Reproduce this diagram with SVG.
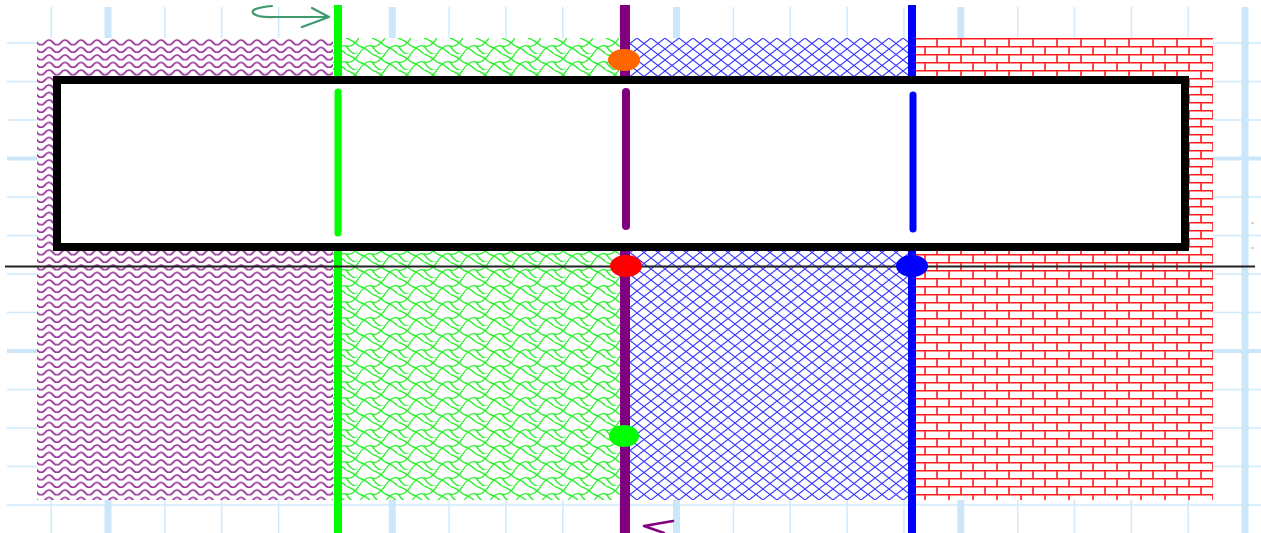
<svg xmlns="http://www.w3.org/2000/svg" width="1261" height="533" viewBox="0 0 1261 533">
<style>
.gt{stroke:#d0e9fb;stroke-width:1.5}
.gT{stroke:#cce7fa;stroke-width:7}
.gTh{stroke:#cce7fa;stroke-width:4}
.vl{fill:none;stroke-linecap:butt}
.seg{fill:none;stroke-linecap:round}
</style>
<defs>
<pattern id="waves" width="16" height="7.5" patternUnits="userSpaceOnUse" x="37" y="38">
<rect width="16" height="7.5" fill="#fff"/>
<path d="M-8 4.5 Q-4 -0.5 0 4.5 T8 4.5 T16 4.5 T24 4.5" fill="none" stroke="#993399" stroke-width="1.8"/>
</pattern>
<pattern id="scales" width="26" height="16" patternUnits="userSpaceOnUse" x="333" y="38">
<rect width="26" height="16" fill="#fff"/>
<path d="M0 16 Q6.5 6 13 8 Q19.5 10 26 0 M-13 8 Q-6.5 -2 0 0 M13 8 Q19.5 18 26 16" fill="none" stroke="#33ee33" stroke-width="1.4"/>
<path d="M0 8 Q6.5 10 13 16 M13 0 Q19.5 2 26 8" fill="none" stroke="#33ee33" stroke-width="1.4"/>
</pattern>
<pattern id="cross" width="14" height="11" patternUnits="userSpaceOnUse" x="623" y="38">
<rect width="14" height="11" fill="#fff"/>
<path d="M0 0 L14 11 M14 0 L0 11" stroke="#3838ff" stroke-width="1.1"/>
</pattern>
<pattern id="bricks" width="24" height="16" patternUnits="userSpaceOnUse" x="912" y="38">
<rect width="24" height="16" fill="#fff"/>
<path d="M0 0.75 H24 M0 8.75 H24 M1 0 V8.75 M13 8.75 V16" stroke="#ff1a1a" stroke-width="1.6"/>
</pattern>
</defs>
<rect width="1261" height="533" fill="#fff"/>
<g id="grid">
<g class="gt">
<path d="M51.2 7V533 M164.9 7V533 M221.7 7V533 M278.6 7V533 M335.4 7V533 M449.1 7V533 M506 7V533 M562.8 7V533 M619.7 7V533 M733.4 7V533 M790.2 7V533 M847.1 7V533 M904 7V533 M1017.7 7V533 M1074.5 7V533 M1131.4 7V533 M1188.2 7V533"/>
<path d="M7 43H1261 M7 81.5H1261 M7 120H1261 M7 197H1261 M7 235.5H1261 M7 274H1261 M7 312.5H1261 M7 389.5H1261 M7 428H1261 M7 466.5H1261 M7 505H1261"/>
</g>
<path class="gT" d="M108 7V533 M392.3 7V533 M676.5 7V533 M960.8 7V533 M1245 7V533"/>
<path class="gTh" d="M7 158.5H1261 M7 351H1261"/>
</g>
<g id="regions">
<rect x="37" y="38" width="296" height="462" fill="url(#waves)"/>
<rect x="333" y="38" width="290" height="462" fill="url(#scales)"/>
<rect x="623" y="38" width="289" height="462" fill="url(#cross)"/>
<rect x="912" y="38" width="301" height="462" fill="url(#bricks)"/>
</g>
<g id="verticals">
<path class="vl" d="M338 5V533" stroke="#00ff00" stroke-width="8"/>
<path class="vl" d="M625 5V533" stroke="#800080" stroke-width="10"/>
<path class="vl" d="M912 5V533" stroke="#0000ff" stroke-width="8"/>
</g>
<g id="box">
<rect x="57" y="80" width="1128" height="167" fill="#fff" stroke="#000" stroke-width="8"/>
<path class="seg" d="M338 92V233" stroke="#00ff00" stroke-width="7"/>
<path class="seg" d="M626 92V226" stroke="#800080" stroke-width="8"/>
<path class="seg" d="M913 95V229" stroke="#0000ff" stroke-width="7"/>
</g>
<g id="connectors">
<path d="M5 266.5H1255" stroke="#222" stroke-width="2.2"/>
<path d="M272 6 Q250 8 253 13 Q257 18 276 17 L329 17 M312 8 L329 17 L302 27" fill="none" stroke="#3c9a6c" stroke-width="2.2" stroke-linecap="round" stroke-linejoin="round"/>
<path d="M673 521 L644 526 L664 533" fill="none" stroke="#800080" stroke-width="2.5" stroke-linecap="round" stroke-linejoin="round"/>
<path d="M1251 223H1254 M1251 248H1254" stroke="#e0a060" stroke-width="1.2"/>
</g>
<g id="dot-orange"><ellipse cx="624" cy="60" rx="16" ry="11" fill="#ff6600"/></g>
<g id="dot-red"><ellipse cx="626" cy="266" rx="16" ry="11" fill="#ff0000"/></g>
<g id="dot-blue"><ellipse cx="912" cy="266" rx="16" ry="11" fill="#0000ff"/></g>
<g id="dot-green"><ellipse cx="624" cy="436" rx="15" ry="11" fill="#00ff00"/></g>
</svg>
